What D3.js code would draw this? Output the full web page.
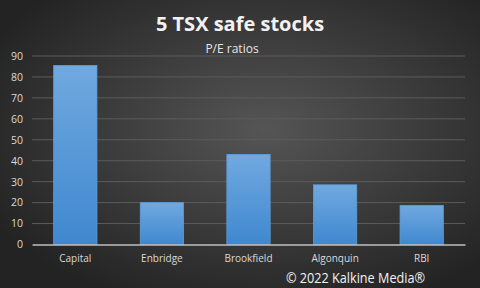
<!DOCTYPE html>
<html>
<head>
<meta charset="utf-8">
<script src="https://cdn.jsdelivr.net/npm/d3@7"></script>
<style>
  body { margin: 0; background: #2b2b2b; }
  svg { display: block; font-family: "Open Sans", "Noto Sans", sans-serif; }
</style>
</head>
<body>
<div id="canvas"></div>
<script>
var stocks = ["Capital", "Enbridge", "Brookfield", "Algonquin", "RBI"]
var peRatios = [85.5, 20, 43, 28.5, 18.7]
var yTicks = [0, 10, 20, 30, 40, 50, 60, 70, 80, 90]

var width = 480
var height = 288
var plotLeft = 32, plotRight = 465, plotTop = 56, plotBottom = 244.5

var svg = d3.select("#canvas")
    .append("svg")
    .attr("width", width)
    .attr("height", height)

var defs = svg.append("defs")

// background glow
var bg = defs.append("radialGradient")
    .attr("id", "bg")
    .attr("cx", "55%").attr("cy", "45%").attr("r", "65%")
bg.append("stop").attr("offset", "0%").attr("stop-color", "#555555")
bg.append("stop").attr("offset", "100%").attr("stop-color", "#232323")

var barGrad = defs.append("linearGradient")
    .attr("id", "bar")
    .attr("x1", 0).attr("y1", 0).attr("x2", 0).attr("y2", 1)
barGrad.append("stop").attr("offset", "0%").attr("stop-color", "#71a9e0")
barGrad.append("stop").attr("offset", "100%").attr("stop-color", "#3f88cf")

svg.append("rect")
    .attr("width", width)
    .attr("height", height)
    .attr("fill", "url(#bg)")

var xScale = d3.scaleBand().domain(stocks).range([plotLeft, plotRight])
    .paddingInner(0.5).paddingOuter(0.25)
var yScale = d3.scaleLinear().domain([0, 90]).range([plotBottom, plotTop])

// gridlines
svg.append("g")
    .selectAll("line")
    .data(yTicks.slice(1))
    .enter()
    .append("line")
    .attr("x1", plotLeft)
    .attr("x2", plotRight)
    .attr("y1", function (d) { return yScale(d) })
    .attr("y2", function (d) { return yScale(d) })
    .attr("stroke", "#5c5c5c")
    .attr("stroke-width", 1)

var yAxis = svg.append("g")
    .attr("transform", `translate(${plotLeft},0)`)
    .call(d3.axisLeft(yScale).tickValues(yTicks).tickSize(0).tickPadding(9))
yAxis.select(".domain").remove()
yAxis.selectAll("text")
    .attr("fill", "#d9d9d9")
    .style("font-size", "10.5px")
    .style("font-family", "\"Open Sans\", sans-serif")

svg.selectAll(".bar")
    .data(peRatios)
    .enter()
    .append("rect")
    .attr("class", "bar")
    .attr("x", function (d, i) { return xScale(stocks[i]) })
    .attr("y", function (d) { return yScale(d) })
    .attr("width", xScale.bandwidth())
    .attr("height", function (d) { return plotBottom - yScale(d) })
    .attr("fill", "url(#bar)")
    .attr("stroke", "#5f9bd6")
    .attr("stroke-width", 0.8)

var xAxis = svg.append("g")
    .attr("transform", `translate(0,${plotBottom})`)
    .call(d3.axisBottom(xScale).tickSize(0).tickPadding(10))
xAxis.select(".domain").attr("stroke", "#bfbfbf").attr("stroke-width", 1.5)
xAxis.selectAll("text")
    .attr("fill", "#d9d9d9")
    .style("font-size", "10px")
    .style("font-family", "\"Open Sans\", sans-serif")

svg.append("text")
    .attr("x", 240)
    .attr("y", 31)
    .attr("text-anchor", "middle")
    .attr("fill", "#f2f2f2")
    .style("font-size", "20px")
    .style("font-weight", "bold")
    .text("5 TSX safe stocks")

svg.append("text")
    .attr("x", 232)
    .attr("y", 53)
    .attr("text-anchor", "middle")
    .attr("fill", "#e6e6e6")
    .style("font-size", "12px")
    .text("P/E ratios")

svg.append("text")
    .attr("x", 286)
    .attr("y", 283)
    .attr("fill", "#f2f2f2")
    .attr("textLength", 139)
    .attr("lengthAdjust", "spacingAndGlyphs")
    .style("font-size", "14px")
    .text("© 2022 Kalkine Media®")
</script>
</body>
</html>
